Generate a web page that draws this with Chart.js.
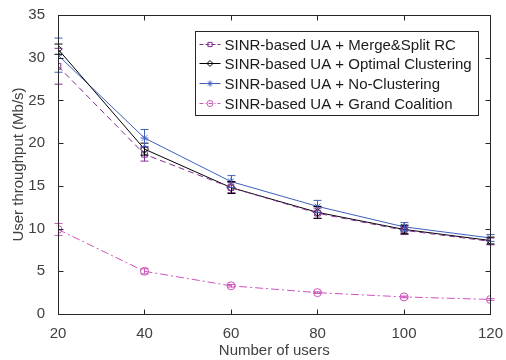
<!DOCTYPE html>
<html>
<head>
<meta charset="utf-8">
<script src="https://cdn.jsdelivr.net/npm/chart.js@4.4.0/dist/chart.umd.min.js"></script>
<style>
  html, body { margin: 0; padding: 0; background: #fff; }
  #wrap { width: 506px; height: 360px; }
</style>
</head>
<body>
<div id="wrap"><canvas id="myChart" width="506" height="360"></canvas></div>
<script>
const users = [20, 40, 60, 80, 100, 120];

const mergeSplit = [29.0, 18.7, 14.8, 11.8, 9.8, 8.5];
const mergeSplitErr = [2.1, 0.8, 0.6, 0.6, 0.5, 0.4];

const optimal = [31.0, 19.3, 14.8, 11.9, 9.9, 8.6];
const optimalErr = [0.6, 0.7, 0.7, 0.7, 0.5, 0.4];

const noClustering = [30.3, 20.6, 15.5, 12.6, 10.2, 8.9];
const noClusteringErr = [2.0, 1.0, 0.7, 0.7, 0.5, 0.4];

const grandCoalition = [9.9, 5.0, 3.3, 2.5, 2.0, 1.7];
const grandCoalitionErr = [0.7, 0.3, 0.15, 0.1, 0.1, 0.1];

const seriesLabels = [
  "SINR-based UA + Merge&Split RC",
  "SINR-based UA + Optimal Clustering",
  "SINR-based UA + No-Clustering",
  "SINR-based UA + Grand Coalition",
];

const purple = "#7E2F8E";
const black = "#000000";
const blue = "#3E5FBF";
const pink = "#CC55BB";
const fontFamily = "'Liberation Sans', Arial, sans-serif";

const toPoints = (vals) => vals.map((v, i) => ({ x: users[i], y: v }));

const makeSet = (label, vals, err, color, style, dash, legendDash) => ({
  label: label,
  data: toPoints(vals),
  errors: err,
  legendDash: legendDash,
  borderColor: color,
  backgroundColor: "rgba(0,0,0,0)",
  borderWidth: 1,
  borderDash: dash,
  pointStyle: style,
  pointRadius: 4,
  pointBorderColor: color,
  pointBorderWidth: 1,
  pointBackgroundColor: "rgba(0,0,0,0)",
  tension: 0,
});

const datasets = [
  makeSet(seriesLabels[0], mergeSplit, mergeSplitErr, purple, "rect", [6, 4], [4, 2]),
  makeSet(seriesLabels[1], optimal, optimalErr, black, "rectRot", [], []),
  makeSet(seriesLabels[2], noClustering, noClusteringErr, blue, "star", [], []),
  makeSet(seriesLabels[3], grandCoalition, grandCoalitionErr, pink, "circle", [8, 3, 2, 3], [4, 2, 1, 2]),
];

// error bars, box with inward ticks, and legend inside the axes
const matlabStyle = {
  id: "matlabStyle",
  afterDatasetsDraw(chart) {
    const ctx = chart.ctx;
    const xs = chart.scales.x;
    const ys = chart.scales.y;
    chart.data.datasets.forEach((ds) => {
      ctx.save();
      ctx.strokeStyle = ds.borderColor;
      ctx.lineWidth = 1;
      ds.data.forEach((p, i) => {
        const e = ds.errors[i];
        const px = Math.round(xs.getPixelForValue(p.x)) + 0.5;
        const top = ys.getPixelForValue(p.y + e);
        const bot = ys.getPixelForValue(p.y - e);
        ctx.beginPath();
        ctx.moveTo(px, top);
        ctx.lineTo(px, bot);
        ctx.moveTo(px - 4, top);
        ctx.lineTo(px + 4, top);
        ctx.moveTo(px - 4, bot);
        ctx.lineTo(px + 4, bot);
        ctx.stroke();
      });
      ctx.restore();
    });
  },
  afterDraw(chart) {
    const ctx = chart.ctx;
    const a = chart.chartArea;
    const xs = chart.scales.x;
    const ys = chart.scales.y;
    const L = Math.round(a.left) + 0.5;
    const R = Math.round(a.right) + 0.5;
    const T = Math.round(a.top) + 0.5;
    const B = Math.round(a.bottom) + 0.5;
    ctx.save();
    ctx.strokeStyle = "#262626";
    ctx.lineWidth = 1;
    ctx.strokeRect(L, T, R - L, B - T);
    ctx.beginPath();
    xs.ticks.forEach((t) => {
      const px = Math.round(xs.getPixelForValue(t.value)) + 0.5;
      ctx.moveTo(px, B);
      ctx.lineTo(px, B - 5);
      ctx.moveTo(px, T);
      ctx.lineTo(px, T + 5);
    });
    ys.ticks.forEach((t) => {
      const py = Math.round(ys.getPixelForValue(t.value)) + 0.5;
      ctx.moveTo(L, py);
      ctx.lineTo(L + 5, py);
      ctx.moveTo(R, py);
      ctx.lineTo(R - 5, py);
    });
    ctx.stroke();

    // legend
    const bx = 195.5, by = 31.5, bw = 283, bh = 84;
    ctx.fillStyle = "#fff";
    ctx.fillRect(bx, by, bw, bh);
    ctx.strokeStyle = "#262626";
    ctx.strokeRect(bx, by, bw, bh);
    ctx.font = "15px " + fontFamily;
    ctx.textBaseline = "middle";
    chart.data.datasets.forEach((ds, i) => {
      const y = Math.round(by + 12 + i * 19.7) + 0.5;
      ctx.save();
      ctx.strokeStyle = ds.borderColor;
      ctx.fillStyle = "rgba(0,0,0,0)";
      ctx.lineWidth = 1;
      ctx.setLineDash(ds.legendDash);
      ctx.beginPath();
      ctx.moveTo(bx + 4, y);
      ctx.lineTo(bx + 25, y);
      ctx.stroke();
      ctx.setLineDash([]);
      Chart.helpers.drawPoint(ctx, {
        pointStyle: ds.pointStyle,
        radius: 3,
        borderWidth: 1,
        rotation: 0,
      }, bx + 14.5, y);
      ctx.restore();
      ctx.fillStyle = "#1a1a1a";
      ctx.fillText(seriesLabels[i], bx + 29, y + 1);
    });
    ctx.restore();
  },
};

const config = {
  type: "line",
  data: { datasets: datasets },
  options: {
    responsive: false,
    animation: false,
    devicePixelRatio: 1,
    layout: { padding: { top: 15, right: 11, left: 0, bottom: 0 } },
    plugins: { legend: { display: false }, tooltip: { enabled: false } },
    scales: {
      x: {
        type: "linear",
        min: 20,
        max: 120,
        grid: { display: false },
        border: { display: false },
        ticks: {
          stepSize: 20,
          padding: 3,
          color: "#404040",
          font: { size: 15, family: fontFamily },
        },
        title: {
          display: true,
          text: "Number of users",
          color: "#404040",
          padding: { top: 0, bottom: 0 },
          font: { size: 15, family: fontFamily },
        },
        afterFit: (scale) => { scale.height = 46; },
      },
      y: {
        min: 0,
        max: 35,
        grid: { display: false },
        border: { display: false },
        ticks: {
          stepSize: 5,
          padding: 5,
          color: "#404040",
          font: { size: 15, family: fontFamily },
        },
        title: {
          display: true,
          text: "User throughput (Mb/s)",
          color: "#404040",
          padding: { top: 10, bottom: 0 },
          font: { size: 15, family: fontFamily },
        },
        afterFit: (scale) => { scale.width = 58; },
      },
    },
  },
  plugins: [matlabStyle],
};

// eslint-disable-next-line no-undef
const myChart = new Chart(document.getElementById("myChart"), config);
</script>
</body>
</html>
